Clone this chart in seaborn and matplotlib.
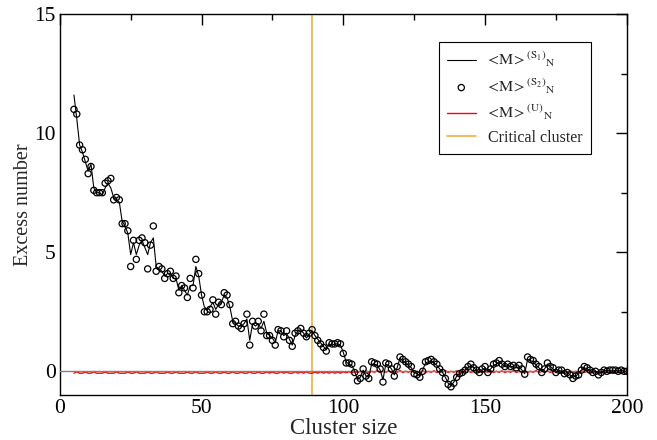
import matplotlib
matplotlib.use("Agg")
import matplotlib.pyplot as plt
import seaborn as sns
import numpy as np
import pandas as pd
from matplotlib.ticker import MultipleLocator

# ---------------- data ----------------
cluster_size = list(range(5, 201))

s2_values = [
    11.0, 10.8, 9.5, 9.3, 8.9, 8.3, 8.6, 7.6, 7.5, 7.5,
    7.5, 7.9, 8.0, 8.1, 7.2, 7.3, 7.2, 6.2, 6.2, 5.9,
    4.4, 5.5, 4.7, 5.5, 5.6, 5.4, 4.3, 5.3, 6.1, 4.2,
    4.4, 4.3, 3.9, 4.1, 4.2, 3.9, 4.0, 3.3, 3.6, 3.5,
    3.1, 3.9, 3.5, 4.7, 4.1, 3.2, 2.5, 2.5, 2.6, 3.0,
    2.4, 2.9, 2.8, 3.3, 3.2, 2.8, 2.0, 2.1, 1.9, 1.8,
    2.0, 2.4, 1.1, 2.1, 1.9, 2.1, 1.7, 2.4, 1.5, 1.5,
    1.3, 1.1, 1.75, 1.7, 1.45, 1.7, 1.3, 1.05, 1.6, 1.7,
    1.8, 1.6, 1.45, 1.6, 1.75, 1.5, 1.3, 1.15, 1.0, 0.85,
    1.2, 1.15, 1.15, 1.2, 1.15, 0.75, 0.35, 0.35, 0.3, -0.05,
    -0.4, -0.3, 0.1, -0.2, -0.3, 0.4, 0.35, 0.3, 0.1, -0.45,
    0.35, 0.3, 0.1, -0.2, 0.2, 0.6, 0.5, 0.4, 0.3, 0.2,
    -0.1, -0.15, -0.25, 0.0, 0.4, 0.45, 0.5, 0.4, 0.3, 0.1,
    -0.05, -0.3, -0.55, -0.65, -0.5, -0.25, -0.1, -0.05, 0.05, 0.2,
    0.3, 0.15, 0.05, -0.05, 0.1, 0.2, -0.05, 0.1, 0.3, 0.35,
    0.45, 0.3, 0.2, 0.3, 0.2, 0.25, 0.15, 0.25, 0.1, -0.12,
    0.6, 0.5, 0.45, 0.3, 0.2, -0.05, 0.1, 0.35, 0.2, 0.15,
    -0.05, 0.05, 0.05, -0.1, -0.05, -0.15, -0.3, -0.2, -0.15, 0.05,
    0.2, 0.15, 0.05, -0.05, 0.0, -0.15, -0.05, 0.05, 0.0, 0.05,
    0.05, 0.05, 0.0, 0.05, 0.0, 0.0,
]

s1_values = [
    11.6, 10.6, 9.5, 9.2, 8.8, 8.4, 8.7, 7.7, 7.5, 7.5,
    7.4, 7.7, 7.9, 7.7, 7.3, 7.2, 7.1, 6.3, 6.1, 5.8,
    4.9, 5.4, 4.9, 5.3, 5.5, 5.2, 4.9, 5.4, 5.6, 4.4,
    4.3, 4.2, 4.0, 4.1, 4.1, 3.9, 3.9, 3.4, 3.6, 3.4,
    3.2, 3.6, 3.6, 4.4, 4.0, 3.2, 2.7, 2.6, 2.7, 2.9,
    2.6, 2.8, 2.9, 3.2, 3.1, 2.7, 2.1, 2.0, 1.9, 1.9,
    2.0, 2.2, 1.3, 2.0, 1.9, 2.0, 1.8, 2.1, 1.6, 1.5,
    1.4, 1.2, 1.7, 1.7, 1.5, 1.6, 1.35, 1.1, 1.5, 1.7,
    1.75, 1.6, 1.4, 1.55, 1.7, 1.5, 1.35, 1.2, 1.05, 0.9,
    1.15, 1.1, 1.15, 1.15, 1.1, 0.8, 0.4, 0.3, 0.25, 0.0,
    -0.35, -0.25, 0.05, -0.2, -0.25, 0.3, 0.3, 0.25, 0.05, -0.35,
    0.3, 0.25, 0.1, -0.15, 0.15, 0.55, 0.45, 0.35, 0.25, 0.15,
    -0.05, -0.1, -0.2, 0.05, 0.35, 0.4, 0.45, 0.35, 0.25, 0.1,
    -0.05, -0.25, -0.5, -0.6, -0.45, -0.2, -0.1, -0.05, 0.05, 0.15,
    0.25, 0.15, 0.05, -0.05, 0.05, 0.15, 0.0, 0.1, 0.25, 0.3,
    0.4, 0.3, 0.2, 0.25, 0.2, 0.2, 0.15, 0.2, 0.05, -0.1,
    0.5, 0.45, 0.4, 0.25, 0.15, 0.0, 0.1, 0.3, 0.2, 0.1,
    -0.05, 0.05, 0.0, -0.1, -0.05, -0.15, -0.25, -0.2, -0.1, 0.05,
    0.15, 0.1, 0.05, -0.05, 0.0, -0.1, -0.05, 0.05, 0.0, 0.05,
    0.0, 0.05, 0.0, 0.05, 0.0, 0.0,
]

u_values = [
    -0.08, -0.02, -0.08, -0.08, -0.03, -0.08, -0.08, -0.02, -0.08, -0.08,
    -0.08, -0.03, -0.08, -0.08, -0.08, -0.02, -0.08, -0.08, -0.08, -0.03,
    -0.08, -0.08, -0.02, -0.08, -0.08, -0.08, -0.03, -0.08, -0.08, -0.02,
    -0.08, -0.08, -0.08, -0.03, -0.08, -0.08, -0.02, -0.08, -0.08, -0.08,
    -0.03, -0.08, -0.08, -0.02, -0.08, -0.08, -0.08, -0.03, -0.08, -0.08,
    -0.02, -0.08, -0.08, -0.03, -0.08, -0.08, -0.02, -0.08, -0.08, -0.03,
    -0.08, -0.08, -0.02, -0.08, -0.08, -0.03, -0.08, -0.08, -0.02, -0.08,
    -0.03, -0.08, -0.08, -0.02, -0.08, -0.03, -0.08, -0.08, -0.02, -0.08,
    -0.03, -0.08, -0.02, -0.08, -0.08, -0.03, -0.08, -0.02, -0.08, -0.03,
    -0.08, -0.02, -0.08, -0.03, -0.08, -0.02, -0.06, -0.02, -0.06, -0.02,
    -0.05, 0.0, -0.06, 0.02, -0.05, 0.0, -0.04, 0.03, -0.05, 0.0,
    -0.04, 0.02, -0.05, 0.0, -0.04, 0.03, -0.05, 0.0, -0.04, 0.02,
    -0.05, 0.0, -0.04, 0.03, -0.05, 0.0, -0.04, 0.02, -0.05, 0.0,
    -0.04, 0.03, -0.05, 0.0, -0.04, 0.02, -0.05, 0.0, -0.04, 0.03,
    -0.05, 0.0, -0.04, 0.02, -0.05, 0.0, -0.04, 0.03, -0.05, 0.0,
    -0.04, 0.02, -0.05, 0.0, -0.04, 0.03, -0.05, 0.0, -0.04, 0.02,
    -0.05, 0.0, -0.04, 0.03, -0.05, 0.0, -0.04, 0.02, -0.05, 0.0,
    -0.04, 0.03, -0.05, 0.0, -0.04, 0.02, -0.05, 0.0, -0.04, 0.03,
    -0.05, 0.0, -0.04, 0.02, -0.05, 0.0, -0.04, 0.03, -0.05, 0.0,
    -0.04, 0.02, -0.05, 0.0, -0.04, 0.0,
]

critical_cluster = 89

x_ticks = [0, 50, 100, 150, 200]
y_ticks = [0, 5, 10, 15]

lbl_s1 = r"$\!\!<\!\mathrm{M}\!>^{(\mathrm{S}_1)}{}_{\mathrm{N}}$"
lbl_s2 = r"$\!\!<\!\mathrm{M}\!>^{(\mathrm{S}_2)}{}_{\mathrm{N}}$"
lbl_u = r"$\!\!<\!\mathrm{M}\!>^{(\mathrm{U})}{}_{\mathrm{N}}$"
lbl_c = "Critical cluster"

df = pd.DataFrame({"size": cluster_size, "s1": s1_values,
                   "s2": s2_values, "u": u_values})

# ---------------- style ----------------
sns.set_theme(style="white")
plt.rcParams["font.family"] = ["Liberation Serif", "DejaVu Serif"]
plt.rcParams["mathtext.fontset"] = "stix"

fig = plt.figure(figsize=(6.57, 4.40), dpi=100)
ax = fig.add_axes([0.091, 0.102, 0.863, 0.866])

sns.lineplot(data=df, x="size", y="u", ax=ax, color="red", lw=1.0,
             label=lbl_u, zorder=2)
ax.axhline(0, color="#808080", lw=1.0, zorder=3)
sns.lineplot(data=df, x="size", y="s1", ax=ax, color="black", lw=0.8,
             label=lbl_s1, zorder=4)
sns.scatterplot(data=df, x="size", y="s2", ax=ax, marker="o", s=20,
                facecolor="none", edgecolor="black", linewidth=0.9,
                label=lbl_s2, zorder=5)
ax.axvline(critical_cluster, color="#f5b041", lw=1.2, zorder=1,
           label=lbl_c)

ax.set_xlim(0, 200)
ax.set_ylim(-1, 15)
ax.set_xticks(x_ticks)
ax.set_yticks(y_ticks)
ax.xaxis.set_minor_locator(MultipleLocator(25))
ax.yaxis.set_minor_locator(MultipleLocator(2.5))
ax.tick_params(which="both", direction="in", top=True, right=True,
               labelsize=15.5, colors="black", width=1)
ax.tick_params(which="major", length=8, pad=3)
ax.tick_params(which="minor", length=4)
for sp in ax.spines.values():
    sp.set_color("black")
    sp.set_linewidth(1.0)

ax.set_xlabel("Cluster size", fontsize=16.5, labelpad=0)
ax.set_ylabel("Excess number", fontsize=14.5, labelpad=1)

handles, labels = ax.get_legend_handles_labels()
order = [labels.index(l) for l in [lbl_s1, lbl_s2, lbl_u, lbl_c]]
leg = ax.legend([handles[i] for i in order], [labels[i] for i in order],
                loc="upper right", bbox_to_anchor=(0.937, 0.927),
                borderaxespad=0, fontsize=11.5, frameon=True, fancybox=False,
                framealpha=1, edgecolor="black", handlelength=1.8,
                borderpad=0.5, labelspacing=0.45)
leg.get_frame().set_linewidth(0.8)

fig.savefig("out.png", dpi=100)
